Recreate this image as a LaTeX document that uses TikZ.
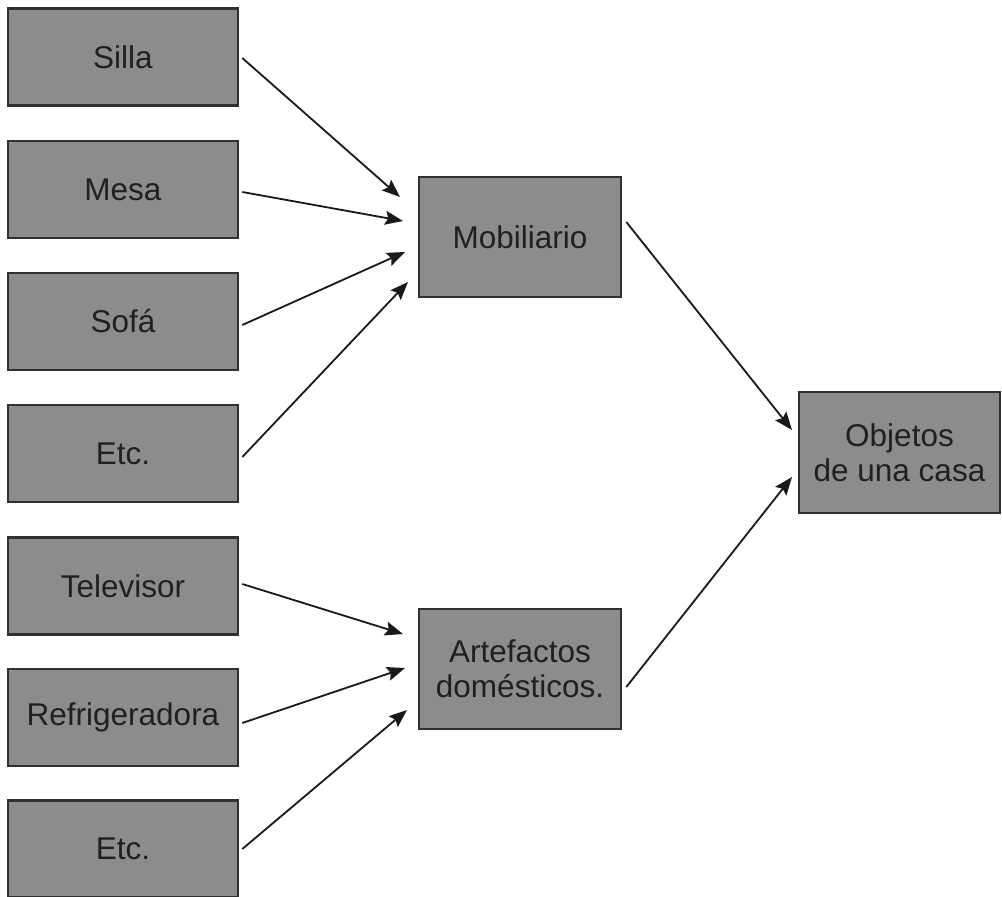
\documentclass[tikz,border=0pt]{standalone}
\usepackage{fontspec}
\setmainfont{Liberation Sans}
\usetikzlibrary{arrows.meta}
\definecolor{boxfill}{HTML}{8C8C8C}
\definecolor{boxline}{HTML}{303030}
\definecolor{txt}{HTML}{202020}
\begin{document}
\begin{tikzpicture}[x=1pt,y=-1pt,
  itembox/.style={draw=boxline, fill=boxfill, line width=2.6pt, rectangle, inner sep=0pt,
    text=txt, align=center, font=\fontsize{31.5}{35}\selectfont},
  leftbox/.style={itembox, minimum width=230pt, minimum height=97pt},
  midbox/.style={itembox, minimum width=202pt, minimum height=120pt},
  conn/.style={line width=1.8pt, draw=black!90, -{Stealth[length=18pt,width=14pt,inset=3pt]}}
]
\path[use as bounding box] (0,0) rectangle (1002,897);
\clip (0,0) rectangle (1002,897);
\fill[white] (0,0) rectangle (1002,897);

\node[leftbox] (silla) at (123,57) {Silla};
\node[leftbox] (mesa) at (123,189.5) {Mesa};
\node[leftbox] (sofa) at (123,321.5) {Sofá};
\node[leftbox] (etc1) at (123,453.5) {Etc.};
\node[leftbox] (tele) at (123,586) {Televisor};
\node[leftbox] (refri) at (123,717.5) {Refrigeradora};
\node[leftbox] (etc2) at (123,849) {Etc.};

\node[midbox] (mob) at (520,237) {Mobiliario};
\node[midbox] (art) at (520,669) {Artefactos\\domésticos.};
\node[itembox, minimum width=201pt, minimum height=121pt] (obj) at (899.5,452.5) {Objetos\\de una casa};

\coordinate (m1) at (400,197);
\coordinate (m2) at (403,221);
\coordinate (m3) at (405,252);
\coordinate (m4) at (408,282);
\coordinate (a1) at (403,634);
\coordinate (a2) at (405,668);
\coordinate (a3) at (407,710);
\coordinate (o1) at (792,430);
\coordinate (o2) at (792,477);

\draw[conn] ([xshift=3pt,yshift=-1pt]silla.east) -- (m1);
\draw[conn] ([xshift=3pt,yshift=-2.5pt]mesa.east) -- (m2);
\draw[conn] ([xshift=3pt,yshift=-3.5pt]sofa.east) -- (m3);
\draw[conn] ([xshift=3pt,yshift=-3.5pt]etc1.east) -- (m4);
\draw[conn] ([xshift=3pt,yshift=2pt]tele.east) -- (a1);
\draw[conn] ([xshift=3pt,yshift=-5.5pt]refri.east) -- (a2);
\draw[conn] ([xshift=3pt]etc2.east) -- (a3);
\draw[conn] ([xshift=4pt,yshift=15pt]mob.east) -- (o1);
\draw[conn] ([xshift=4pt,yshift=-18pt]art.east) -- (o2);
\end{tikzpicture}
\end{document}
